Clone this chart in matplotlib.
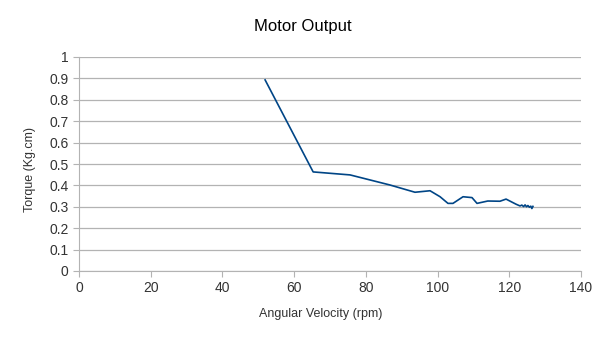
import matplotlib
matplotlib.use("Agg")
import matplotlib.pyplot as plt

plt.rcParams['font.family'] = ['Liberation Sans', 'DejaVu Sans']

# === Data ===
velocity = [51.9, 65.3, 75.6, 86.7, 93.7, 97.9, 100.7, 102.9, 104.3, 107.1,
            109.6, 111.0, 114.0, 117.4, 119.1, 121.9, 123.0, 123.5, 124.0,
            124.4, 124.8, 125.2, 125.6, 126.0, 126.3, 126.6]
torque = [0.893, 0.463, 0.449, 0.402, 0.368, 0.375, 0.347, 0.316, 0.316, 0.347,
          0.343, 0.316, 0.327, 0.326, 0.336, 0.312, 0.304, 0.308, 0.301,
          0.309, 0.300, 0.306, 0.298, 0.303, 0.292, 0.302]

x_ticks = [0, 20, 40, 60, 80, 100, 120, 140]
y_ticks = [0, 0.1, 0.2, 0.3, 0.4, 0.5, 0.6, 0.7, 0.8, 0.9, 1]
y_labels = ["0", "0.1", "0.2", "0.3", "0.4", "0.5", "0.6", "0.7", "0.8", "0.9", "1"]

fig = plt.figure(figsize=(6.05, 3.4), dpi=100)
ax = fig.add_axes([79 / 605, 1 - 271 / 340, 502 / 605, 214 / 340])

ax.plot(velocity, torque, color='#004586', linewidth=1.2)

ax.set_xlim(0, 140)
ax.set_ylim(0, 1)
ax.set_xticks(x_ticks)
ax.set_yticks(y_ticks)
ax.set_yticklabels(y_labels)

ax.grid(axis='y', color='#b3b3b3', linewidth=0.9)
ax.set_axisbelow(True)
for side in ['top', 'right']:
    ax.spines[side].set_visible(False)
for side in ['left', 'bottom']:
    ax.spines[side].set_color('#b3b3b3')
ax.tick_params(colors='#b3b3b3', labelcolor='#333333', labelsize=10, length=4)

# axis titles placed like the original (centred on the figure, not the axes)
fig.text(321 / 605, 1 - 314 / 340, 'Angular Velocity (rpm)', ha='center', va='center',
         fontsize=9, color='#333333')
fig.text(30 / 605, 1 - 170 / 340, 'Torque (Kg.cm)', ha='center', va='center',
         rotation=90, fontsize=9, color='#333333')
fig.text(0.5, 1 - 27 / 340, 'Motor Output', ha='center', va='center', fontsize=12)

fig.savefig('out.png', dpi=100)
